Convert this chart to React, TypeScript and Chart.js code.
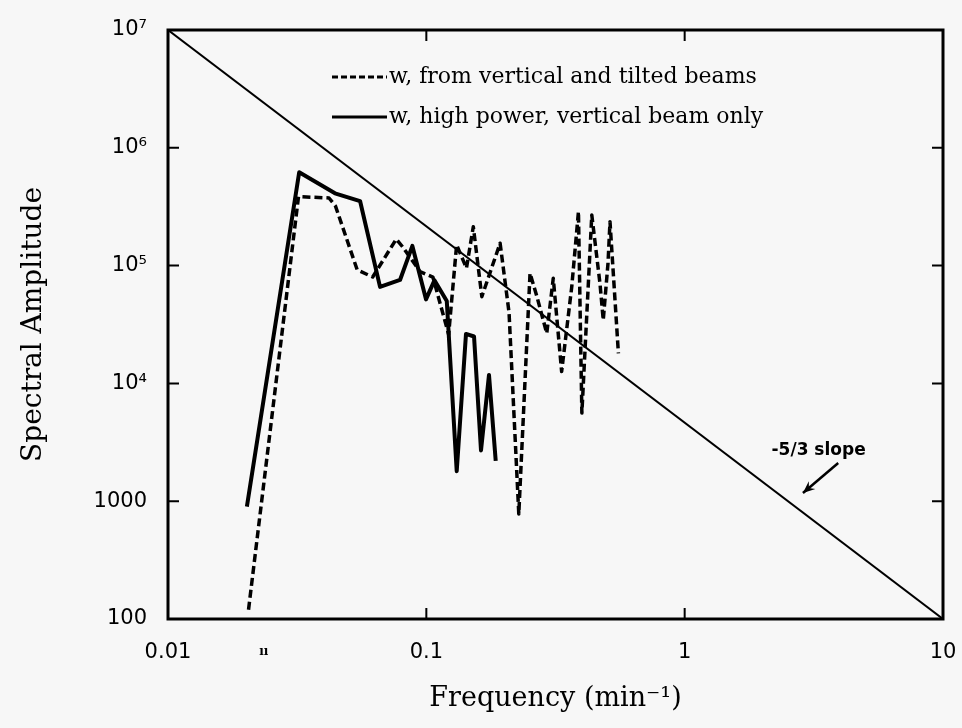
import React, { useEffect, useRef } from "react";
import { Chart, registerables } from "chart.js";

Chart.register(...registerables);

// ---- data ----
const SOLID_FREQ = [0.0202, 0.0322, 0.0443, 0.0554, 0.0662, 0.0791, 0.0883, 0.0997, 0.1075, 0.12, 0.1311, 0.1424, 0.153, 0.1628, 0.1748, 0.1856];
const SOLID_AMP = [900, 620000, 411000, 353000, 66000, 75500, 147000, 51700, 75000, 50000, 1800, 26300, 25000, 2700, 11800, 2200];

const DASH_FREQ = [0.0205, 0.032, 0.042, 0.0445, 0.054, 0.062, 0.0765, 0.081, 0.0945, 0.106, 0.122, 0.131, 0.143, 0.152, 0.164, 0.193, 0.209, 0.228, 0.252, 0.268, 0.2925, 0.31, 0.334, 0.3655, 0.388, 0.4, 0.437, 0.47, 0.484, 0.505, 0.514, 0.554];
const DASH_AMP = [120, 385000, 375000, 320000, 92000, 80000, 168000, 144000, 89000, 80000, 26000, 150000, 95000, 214000, 54500, 155000, 40000, 780, 86000, 54500, 26600, 78000, 12600, 66000, 287000, 5600, 269000, 70700, 34500, 105000, 236000, 18000];

const SLOPE_FREQ = [0.01, 10];
const SLOPE_AMP = [1e7, 100];

const X_TICKS = [0.01, 0.1, 1, 10];
const X_TICK_LABELS = ["0.01", "0.1", "1", "10"];
const Y_TICKS = [100, 1000, 1e4, 1e5, 1e6, 1e7];
const Y_TICK_LABELS = ["100", "1000", "10\u2074", "10\u2075", "10\u2076", "10\u2077"];

const LEGEND_LABELS = ["w, from vertical and tilted beams", "w, high power, vertical beam only"];
const X_TITLE = "Frequency (min\u207B\u00B9)";
const Y_TITLE = "Spectral Amplitude";
const SLOPE_NOTE = "-5/3 slope";
const NOTE_AT = [3.3, 2700];
const ARROW_FROM = [3.93, 2110];
const ARROW_TO = [2.87, 1175];
const STRAY_MARK = "\u0131\u0131";
const STRAY_AT = 0.0235;

const BG = "#f7f7f7";
const SERIF = "'DejaVu Serif', serif";
const SANS = "'DejaVu Sans', sans-serif";

const pts = (xs: number[], ys: number[]) => xs.map((x, i) => ({ x, y: ys[i] }));

const framePlugin = {
  id: "frameAndNotes",
  beforeDraw(chart: any) {
    const { ctx, width, height } = chart;
    ctx.save();
    ctx.fillStyle = BG;
    ctx.fillRect(0, 0, width, height);
    ctx.restore();
  },
  afterDraw(chart: any) {
    const { ctx, chartArea: a, scales } = chart;
    const xs = scales.x;
    const ys = scales.y;
    ctx.save();
    ctx.strokeStyle = "#000";
    ctx.lineCap = "butt";
    // frame
    ctx.lineWidth = 3;
    ctx.strokeRect(a.left, a.top, a.right - a.left, a.bottom - a.top);
    // inward ticks
    ctx.lineWidth = 2;
    const TL = 11;
    ctx.beginPath();
    X_TICKS.forEach((v) => {
      const px = xs.getPixelForValue(v);
      ctx.moveTo(px, a.bottom);
      ctx.lineTo(px, a.bottom - TL);
      ctx.moveTo(px, a.top);
      ctx.lineTo(px, a.top + TL);
    });
    Y_TICKS.forEach((v) => {
      const py = ys.getPixelForValue(v);
      ctx.moveTo(a.left, py);
      ctx.lineTo(a.left + TL, py);
      ctx.moveTo(a.right, py);
      ctx.lineTo(a.right - TL, py);
    });
    ctx.stroke();

    // legend
    const lx0 = a.left + 164;
    const lx1 = a.left + 219;
    const ly = [a.top + 47, a.top + 87];
    ctx.lineWidth = 3;
    ctx.setLineDash([6, 3]);
    ctx.beginPath();
    ctx.moveTo(lx0, ly[0]);
    ctx.lineTo(lx1, ly[0]);
    ctx.stroke();
    ctx.setLineDash([]);
    ctx.beginPath();
    ctx.moveTo(lx0, ly[1]);
    ctx.lineTo(lx1, ly[1]);
    ctx.stroke();
    ctx.fillStyle = "#000";
    ctx.font = `22px ${SERIF}`;
    ctx.textBaseline = "middle";
    ctx.textAlign = "left";
    ctx.fillText(LEGEND_LABELS[0], lx1 + 2, ly[0]);
    ctx.fillText(LEGEND_LABELS[1], lx1 + 2, ly[1]);

    // slope note + arrow
    ctx.font = `bold 17px ${SANS}`;
    ctx.textAlign = "center";
    ctx.fillText(SLOPE_NOTE, xs.getPixelForValue(NOTE_AT[0]), ys.getPixelForValue(NOTE_AT[1]));
    const fx = xs.getPixelForValue(ARROW_FROM[0]);
    const fy = ys.getPixelForValue(ARROW_FROM[1]);
    const tx = xs.getPixelForValue(ARROW_TO[0]);
    const ty = ys.getPixelForValue(ARROW_TO[1]);
    ctx.lineWidth = 2.5;
    ctx.beginPath();
    ctx.moveTo(fx, fy);
    ctx.lineTo(tx, ty);
    ctx.stroke();
    const ang = Math.atan2(ty - fy, tx - fx);
    const hl = 13;
    ctx.beginPath();
    ctx.moveTo(tx, ty);
    ctx.lineTo(tx - hl * Math.cos(ang - 0.4), ty - hl * Math.sin(ang - 0.4));
    ctx.lineTo(tx - hl * 0.6 * Math.cos(ang), ty - hl * 0.6 * Math.sin(ang));
    ctx.lineTo(tx - hl * Math.cos(ang + 0.4), ty - hl * Math.sin(ang + 0.4));
    ctx.closePath();
    ctx.fill();

    // stray mark under the axis
    ctx.font = `bold 12px ${SERIF}`;
    ctx.fillText(STRAY_MARK, xs.getPixelForValue(STRAY_AT), a.bottom + 33);
    ctx.restore();
  },
};

export default function App() {
  const ref = useRef<HTMLCanvasElement | null>(null);
  useEffect(() => {
    if (!ref.current) return;
    const chart = new Chart(ref.current, {
      type: "scatter",
      data: {
        datasets: [
          {
            label: LEGEND_LABELS[0],
            data: pts(DASH_FREQ, DASH_AMP),
            showLine: true,
            borderColor: "#000",
            borderWidth: 3.5,
            borderDash: [8, 4],
            borderJoinStyle: "round",
            pointRadius: 0,
            tension: 0,
          },
          {
            label: LEGEND_LABELS[1],
            data: pts(SOLID_FREQ, SOLID_AMP),
            showLine: true,
            borderColor: "#000",
            borderWidth: 4,
            borderJoinStyle: "round",
            pointRadius: 0,
            tension: 0,
          },
          {
            label: SLOPE_NOTE,
            data: pts(SLOPE_FREQ, SLOPE_AMP),
            showLine: true,
            borderColor: "#000",
            borderWidth: 2,
            pointRadius: 0,
          },
        ],
      },
      options: {
        animation: false,
        responsive: false,
        layout: { padding: { top: 30, right: 19, left: 0, bottom: 0 } },
        plugins: { legend: { display: false }, tooltip: { enabled: false } },
        scales: {
          x: {
            type: "logarithmic",
            min: 0.01,
            max: 10,
            grid: { display: false, drawTicks: false },
            border: { display: false },
            afterBuildTicks: (s: any) => {
              s.ticks = X_TICKS.map((v) => ({ value: v }));
            },
            afterFit: (s: any) => {
              s.height = 109;
              s.paddingLeft = 0;
              s.paddingRight = 0;
            },
            ticks: {
              autoSkip: false,
              maxRotation: 0,
              padding: 21,
              color: "#000",
              font: { family: SANS, size: 21 },
              callback: (v: any) => {
                const i = X_TICKS.findIndex((t) => Math.abs(t - v) / t < 1e-6);
                return i >= 0 ? X_TICK_LABELS[i] : "";
              },
            },
            title: {
              display: true,
              text: X_TITLE,
              color: "#000",
              font: { family: SERIF, size: 27 },
              padding: { top: 0, bottom: 13 },
            },
          },
          y: {
            type: "logarithmic",
            min: 100,
            max: 1e7,
            grid: { display: false, drawTicks: false },
            border: { display: false },
            afterBuildTicks: (s: any) => {
              s.ticks = Y_TICKS.map((v) => ({ value: v }));
            },
            afterFit: (s: any) => {
              s.width = 168;
              s.paddingTop = 0;
              s.paddingBottom = 0;
            },
            ticks: {
              autoSkip: false,
              padding: 21,
              color: "#000",
              font: { family: SANS, size: 21 },
              callback: (v: any) => {
                const i = Y_TICKS.findIndex((t) => Math.abs(t - v) / t < 1e-6);
                return i >= 0 ? Y_TICK_LABELS[i] : "";
              },
            },
            title: {
              display: true,
              text: Y_TITLE,
              color: "#000",
              font: { family: SERIF, size: 28 },
              padding: { top: 17, bottom: 0 },
            },
          },
        },
      },
      plugins: [framePlugin],
    });
    return () => chart.destroy();
  }, []);
  return (
    <div style={{ position: "fixed", left: 0, top: 0, width: 962, height: 728, background: BG }}>
      <canvas ref={ref} width={962} height={728} style={{ display: "block" }} />
    </div>
  );
}
